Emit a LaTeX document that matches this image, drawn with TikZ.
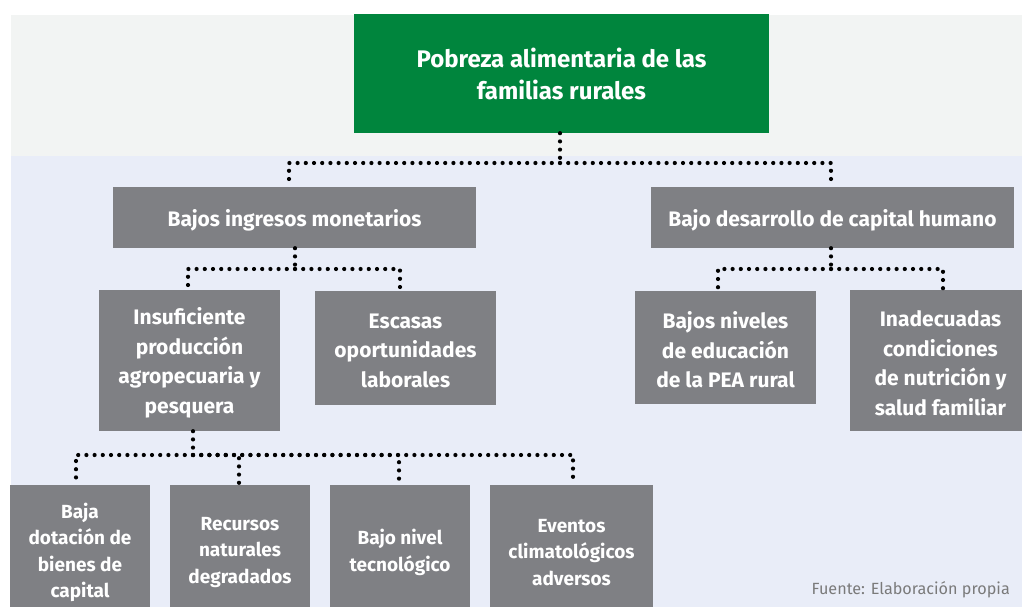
\documentclass[tikz,border=0pt]{standalone}
\usepackage{fontspec}
\setmainfont{Fira Sans}
\definecolor{gpanel}{HTML}{F2F4F3}
\definecolor{bpanel}{HTML}{E9EDF8}
\definecolor{gbox}{HTML}{7F8084}
\definecolor{gtop}{HTML}{00853D}
\definecolor{srcgray}{HTML}{7A7A7A}
\tikzset{
  box/.style={fill=gbox, inner sep=0pt},
  txt/.style={text=white, inner sep=0pt, align=center, yshift=-2.5pt, font=\bfseries\fontsize{21}{29.5}\selectfont},
  smalltxt/.style={txt, font=\bfseries\fontsize{19}{26.5}\selectfont},
  smallbox/.style={box, minimum width=140pt, minimum height=130pt},
  topbox/.style={fill=gtop, text=white, inner sep=0pt, align=center, font=\bfseries\fontsize{24}{32}\selectfont, minimum width=415pt, minimum height=119pt},
  dots/.style={black, line width=4.2pt, line cap=round, dash pattern=on 0pt off 8.2pt}
}
\begin{document}
\begin{tikzpicture}[x=1pt,y=-1pt]
\useasboundingbox (0,0) rectangle (1022,607);
\fill[white] (0,0) rectangle (1022,607);
\fill[gpanel] (11,15) rectangle (1022,156);
\fill[bpanel] (11,156) rectangle (1022,607);
\begin{scope}
\clip (0,0) rectangle (1022,607);
\node[topbox] (top) at (561.5,73.5) {Pobreza alimentaria de las\\familias rurales};
\node[box, minimum width=363pt, minimum height=61pt, label={[txt]center:{Bajos ingresos monetarios}}] (ing) at (294.5,217.5) {};
\node[box, minimum width=363pt, minimum height=61pt, label={[txt]center:{Bajo desarrollo de capital humano}}] (cap) at (832.5,217.5) {};
\node[box, minimum width=181pt, minimum height=141pt, label={[txt]center:{Insuficiente\\producción\\agropecuaria y\\pesquera}}] (ins) at (189.5,360.5) {};
\node[box, minimum width=181pt, minimum height=114pt, label={[txt]center:{Escasas\\oportunidades\\laborales}}] (esc) at (405.5,348) {};
\node[box, minimum width=181pt, minimum height=113pt, label={[txt]center:{Bajos niveles\\de educación\\de la PEA rural}}] (niv) at (725.5,347.5) {};
\node[box, minimum width=181pt, minimum height=141pt, label={[txt]center:{Inadecuadas\\condiciones\\de nutrición y\\salud familiar}}] (nut) at (940.5,360.5) {};
\node[smallbox, label={[smalltxt]center:{Baja\\dotación de\\bienes de\\capital}}] (baja) at (80,550) {};
\node[smallbox, label={[smalltxt]center:{Recursos\\naturales\\degradados}}] (rec) at (240,550) {};
\node[smallbox, label={[smalltxt]center:{Bajo nivel\\tecnológico}}] (tec) at (400,550) {};
\node[smallbox, minimum width=163pt, label={[smalltxt]center:{Eventos\\climatológicos\\adversos}}] (clim) at (571.5,550) {};
\end{scope}
% connectors
\coordinate (j0) at (560,163);
\coordinate (j1) at (295,269);
\coordinate (j2) at (831,269);
\coordinate (j3) at (193,455);
\draw[dots] (top.south -| j0) -- (j0);
\draw[dots] (j0) -| ([xshift=-5.5pt]ing.north);
\draw[dots] (j0) -| ([xshift=-1.5pt]cap.north);
\draw[dots] (ing.south -| j1) -- (j1);
\draw[dots] (j1) -| ([xshift=-1.5pt]ins.north);
\draw[dots] (j1) -| ([xshift=-5.5pt]esc.north);
\draw[dots] (cap.south -| j2) -- (j2);
\draw[dots] (j2) -| ([xshift=-7.5pt]niv.north);
\draw[dots] (j2) -| ([xshift=2.5pt]nut.north);
\draw[dots] (ins.south -| j3) -- (j3);
\draw[dots] (j3) -| ([xshift=-4pt]baja.north);
\draw[dots] (j3) -| ([xshift=-1pt]rec.north);
\draw[dots] (j3) -| ([xshift=-1pt]tec.north);
\draw[dots] (j3) -| ([xshift=1.5pt]clim.north);
\node[anchor=east, text=srcgray, inner sep=0pt, font=\fontsize{16.2}{18}\selectfont] (src) at (1010,590) {Fuente: Elaboración propia};
\end{tikzpicture}
\end{document}
